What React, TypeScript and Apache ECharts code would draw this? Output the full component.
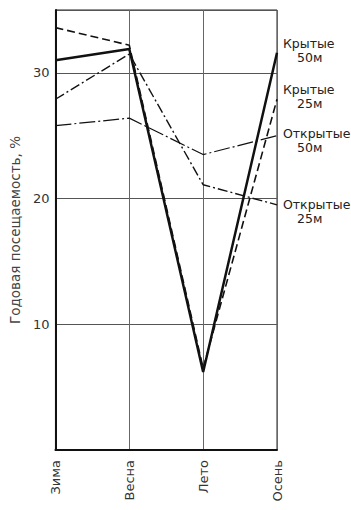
import React, { useEffect, useRef } from "react";
import * as echarts from "echarts";

const categories = ["Зима", "Весна", "Лето", "Осень"];
const covered50 = [31.0, 31.9, 6.2, 31.6];
const covered25 = [33.6, 32.2, 6.5, 27.9];
const open50 = [25.8, 26.4, 23.5, 25.0];
const open25 = [27.9, 31.5, 21.1, 19.5];
const seriesWords = ["Крытые", "Крытые", "Открытые", "Открытые"];
const seriesSizes = ["50м", "25м", "50м", "25м"];
const yTicks = [10, 20, 30];

const FONT = "DejaVu Sans";

export default function App() {
  const ref = useRef<HTMLDivElement>(null);
  useEffect(() => {
    if (!ref.current) return;
    const chart = echarts.init(ref.current, undefined, { renderer: "svg" });
    const mk = (
      i: number,
      data: number[],
      width: number,
      type: any,
      dy: number
    ) => ({
      name: seriesWords[i] + " " + seriesSizes[i],
      type: "line",
      data,
      symbol: "none",
      lineStyle: { color: "#111", width, type },
      endLabel: {
        show: true,
        formatter: "{w|" + seriesWords[i] + "}\n{n|" + seriesSizes[i] + "}",
        color: "#222",
        fontFamily: FONT,
        fontSize: 12.5,
        lineHeight: 14,
        align: "left",
        verticalAlign: "middle",
        distance: 5,
        offset: [1, dy],
        rich: {
          w: { fontFamily: FONT, fontSize: 12.5, lineHeight: 14, color: "#222" },
          n: {
            fontFamily: FONT,
            fontSize: 12.5,
            lineHeight: 14,
            color: "#222",
            padding: [0, 0, 0, 14],
          },
        },
      },
    });
    chart.setOption({
      animation: false,
      backgroundColor: "#fff",
      grid: {
        left: 51,
        top: 10,
        width: 226,
        height: 440,
        show: true,
        borderColor: "#222",
        borderWidth: 1,
      },
      xAxis: {
        type: "category",
        data: categories,
        boundaryGap: false,
        axisLine: { lineStyle: { color: "#111", width: 2 } },
        axisTick: { show: false },
        axisLabel: {
          rotate: 90,
          margin: 10,
          color: "#333",
          fontFamily: FONT,
          fontSize: 13,
        },
        splitLine: { show: true, lineStyle: { color: "#666", width: 1 } },
      },
      yAxis: {
        type: "value",
        min: 0,
        max: 35,
        interval: 10,
        name: "Годовая посещаемость, %",
        nameLocation: "middle",
        nameGap: 32,
        nameTextStyle: { color: "#444", fontFamily: FONT, fontSize: 13.5 },
        axisLine: { show: true, lineStyle: { color: "#111", width: 2 } },
        axisTick: { show: false },
        axisLabel: {
          margin: 6,
          color: "#333",
          fontFamily: FONT,
          fontSize: 13,
          formatter: (v: number) => (yTicks.includes(v) ? String(v) : ""),
        },
        splitLine: { show: true, lineStyle: { color: "#555", width: 1 } },
      },
      series: [
        mk(0, covered50, 2.5, "solid", -2),
        mk(1, covered25, 1.6, [8, 4], -3),
        mk(2, open50, 1.2, [16, 3, 2, 3], 5),
        mk(3, open25, 1.4, [10, 3, 2, 3], 7),
      ],
    });
    return () => chart.dispose();
  }, []);
  return (
    <div
      ref={ref}
      style={{ position: "absolute", left: 0, top: 0, width: 351, height: 510 }}
    />
  );
}
